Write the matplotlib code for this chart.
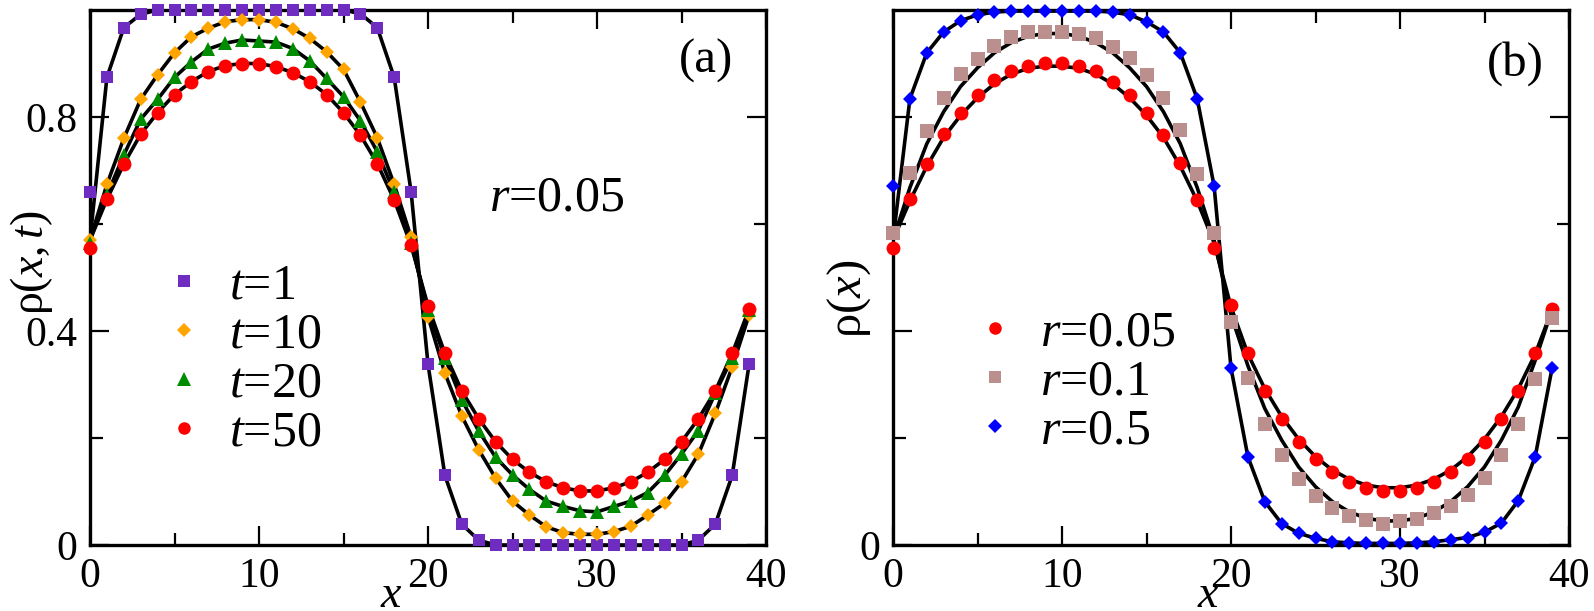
import matplotlib
matplotlib.use('Agg')
import matplotlib.pyplot as plt
import numpy as np

plt.rcParams['font.family'] = ['Liberation Serif', 'DejaVu Serif']
plt.rcParams['mathtext.fontset'] = 'custom'
plt.rcParams['mathtext.rm'] = 'Liberation Serif'
plt.rcParams['mathtext.it'] = 'Liberation Serif:italic'

# lattice sites
sites = np.arange(40)

# ---- panel (a): rho(x,t) for r=0.05 at several times ----
rho_t1 = [0.66, 0.874, 0.967, 0.992, 1.0, 1.0, 1.0, 1.0, 1.0, 1.0,
          1.0, 1.0, 1.0, 1.0, 1.0, 1.0, 0.993, 0.967, 0.874, 0.66,
          0.338, 0.13, 0.039, 0.009, 0.0, 0.0, 0.0, 0.0, 0.0, 0.0,
          0.0, 0.0, 0.0, 0.0, 0.0, 0.0, 0.009, 0.039, 0.13, 0.338]
rho_t10 = [0.57, 0.674, 0.760, 0.833, 0.879, 0.920, 0.950, 0.966, 0.978, 0.982,
           0.982, 0.977, 0.965, 0.947, 0.922, 0.889, 0.828, 0.761, 0.674, 0.575,
           0.427, 0.321, 0.241, 0.178, 0.125, 0.082, 0.056, 0.034, 0.023, 0.020,
           0.020, 0.025, 0.035, 0.056, 0.078, 0.118, 0.170, 0.246, 0.333, 0.43]
rho_t20 = [0.565, 0.654, 0.729, 0.796, 0.833, 0.874, 0.903, 0.927, 0.938, 0.944,
           0.942, 0.940, 0.928, 0.905, 0.872, 0.838, 0.793, 0.735, 0.659, 0.565,
           0.44, 0.35, 0.271, 0.213, 0.164, 0.131, 0.104, 0.082, 0.072, 0.064,
           0.062, 0.072, 0.082, 0.098, 0.130, 0.170, 0.214, 0.284, 0.35, 0.44]
rho_t50 = [0.556, 0.646, 0.712, 0.768, 0.808, 0.842, 0.866, 0.885, 0.896, 0.900,
           0.900, 0.894, 0.883, 0.866, 0.842, 0.808, 0.766, 0.713, 0.645, 0.560,
           0.447, 0.358, 0.288, 0.236, 0.193, 0.160, 0.136, 0.118, 0.107, 0.101,
           0.101, 0.107, 0.118, 0.136, 0.160, 0.193, 0.236, 0.288, 0.358, 0.441]
line_start_a = 0.57   # where the black curves meet the left axis

# ---- panel (b): stationary rho(x) for several r ----
rho_r005 = [0.556, 0.646, 0.712, 0.768, 0.808, 0.842, 0.869, 0.886, 0.896, 0.901,
            0.901, 0.896, 0.886, 0.866, 0.841, 0.808, 0.766, 0.714, 0.645, 0.556,
            0.449, 0.358, 0.288, 0.236, 0.193, 0.160, 0.136, 0.118, 0.106, 0.101,
            0.101, 0.106, 0.118, 0.136, 0.160, 0.193, 0.236, 0.288, 0.358, 0.441]
rho_r01 = [0.583, 0.695, 0.774, 0.836, 0.880, 0.908, 0.933, 0.950, 0.958, 0.958,
           0.959, 0.956, 0.947, 0.931, 0.910, 0.879, 0.835, 0.776, 0.693, 0.583,
           0.417, 0.312, 0.226, 0.168, 0.123, 0.092, 0.070, 0.054, 0.047, 0.040,
           0.044, 0.049, 0.059, 0.072, 0.093, 0.126, 0.168, 0.226, 0.310, 0.424]
rho_r05 = [0.671, 0.834, 0.920, 0.959, 0.980, 0.991, 0.996, 0.998, 0.998, 0.998,
           0.998, 0.998, 0.998, 0.996, 0.991, 0.978, 0.959, 0.920, 0.834, 0.671,
           0.331, 0.165, 0.081, 0.040, 0.022, 0.0125, 0.006, 0.004, 0.003, 0.003,
           0.003, 0.004, 0.006, 0.010, 0.014, 0.024, 0.041, 0.083, 0.165, 0.331]
# theory curves of panel (b)
th_r005 = [0.57, 0.643, 0.708, 0.762, 0.803, 0.836, 0.862, 0.880, 0.891, 0.895,
           0.895, 0.891, 0.880, 0.862, 0.836, 0.803, 0.762, 0.708, 0.643, 0.565,
           0.445, 0.357, 0.292, 0.240, 0.198, 0.165, 0.140, 0.123, 0.112, 0.107,
           0.107, 0.112, 0.123, 0.140, 0.165, 0.198, 0.240, 0.292, 0.357, 0.44]
th_r01 = [0.57, 0.668, 0.750, 0.810, 0.857, 0.892, 0.920, 0.939, 0.951, 0.956,
          0.956, 0.951, 0.939, 0.920, 0.892, 0.857, 0.810, 0.750, 0.668, 0.57,
          0.43, 0.335, 0.255, 0.196, 0.146, 0.109, 0.081, 0.062, 0.050, 0.045,
          0.045, 0.050, 0.062, 0.081, 0.109, 0.146, 0.196, 0.258, 0.345, 0.44]
th_r05 = [0.57, 0.834, 0.920, 0.959, 0.980, 0.991, 0.996, 0.998, 0.998, 0.998,
          0.998, 0.998, 0.998, 0.996, 0.991, 0.978, 0.959, 0.920, 0.834, 0.671,
          0.331, 0.165, 0.081, 0.040, 0.022, 0.0125, 0.006, 0.004, 0.003, 0.003,
          0.003, 0.004, 0.006, 0.010, 0.014, 0.024, 0.041, 0.083, 0.165, 0.331]

labels_a = ['$t$=1', '$t$=10', '$t$=20', '$t$=50']
labels_b = ['$r$=0.05', '$r$=0.1', '$r$=0.5']

fig = plt.figure(figsize=(15.94, 6.11), dpi=100)
ax1 = fig.add_axes([90 / 1594, 66 / 611, 676 / 1594, 535 / 611])
ax2 = fig.add_axes([893 / 1594, 66 / 611, 676 / 1594, 535 / 611])

for ax in (ax1, ax2):
    ax.set_xlim(0, 40)
    ax.set_ylim(0, 1.0)
    ax.set_xticks([0, 10, 20, 30, 40])
    ax.set_xticks([5, 15, 25, 35], minor=True)
    ax.set_yticks([0, 0.4, 0.8])
    ax.set_yticks([0.2, 0.6], minor=True)
    ax.tick_params(which='both', direction='in', top=True, right=True,
                   labelsize=30, pad=9, width=1.6)
    ax.tick_params(which='major', length=14)
    ax.tick_params(which='minor', length=9)
    for sp in ax.spines.values():
        sp.set_linewidth(2.4)

ax1.set_yticklabels(['0', '0.4', '0.8'])
ax2.set_yticklabels(['0', '', ''])

mk = dict(linestyle='none', zorder=3, clip_on=False, markeredgewidth=0)

# panel (a)
series_a = [(rho_t1, 's', '#6E2DC0', 9.0),
            (rho_t10, 'D', '#FFA500', 7.6),
            (rho_t20, '^', '#008C00', 10.5),
            (rho_t50, 'o', '#FF0000', 10.0)]
for vals, m, c, ms in series_a:
    ax1.plot(sites, np.r_[line_start_a, vals[1:]], color='black', lw=2.6, zorder=2)
for (vals, m, c, ms), lab in zip(series_a, labels_a):
    ax1.plot(sites, vals, marker=m, color=c, ms=ms, label=lab, **mk)

ax1.legend(loc='upper left', bbox_to_anchor=(0.1016, 0.527), frameon=False,
           fontsize=36, handlelength=1.0, handletextpad=0.4, labelspacing=0.05,
           borderpad=0, borderaxespad=0, markerscale=0.9)
ax1.text(0.69, 0.649, '$r$=0.05', transform=ax1.transAxes, ha='center',
         va='center', fontsize=36)
ax1.text(0.911, 0.905, '(a)', transform=ax1.transAxes, ha='center',
         va='center', fontsize=35)
ax1.set_xlabel('$x$', fontsize=33, va='baseline')
ax1.xaxis.set_label_coords(0.445, -0.116)
ax1.set_ylabel(r'$\mathrm{ρ}(x,t)$', fontsize=33, va='center')
ax1.yaxis.set_label_coords(-0.086, 0.528)

# panel (b)
for th in (th_r005, th_r01, th_r05):
    ax2.plot(sites, th, color='black', lw=2.6, zorder=2)
series_b = [(rho_r005, 'o', '#FF0000', 10.0),
            (rho_r01, 's', '#BC8F8F', 9.8),
            (rho_r05, 'D', '#0000FF', 7.6)]
for (vals, m, c, ms), lab in zip(series_b, labels_b):
    ax2.plot(sites, vals, marker=m, color=c, ms=ms, label=lab, **mk)

ax2.legend(loc='upper left', bbox_to_anchor=(0.1135, 0.439), frameon=False,
           fontsize=36, handlelength=1.0, handletextpad=0.4, labelspacing=0.05,
           borderpad=0, borderaxespad=0, markerscale=0.9)
ax2.text(0.92, 0.90, '(b)', transform=ax2.transAxes, ha='center',
         va='center', fontsize=35)
ax2.set_xlabel('$x$', fontsize=33, va='baseline')
ax2.xaxis.set_label_coords(0.466, -0.116)
ax2.set_ylabel(r'$\mathrm{ρ}(x)$', fontsize=35, va='center')
ax2.yaxis.set_label_coords(-0.065, 0.46)

fig.savefig('out.png', dpi=100)
